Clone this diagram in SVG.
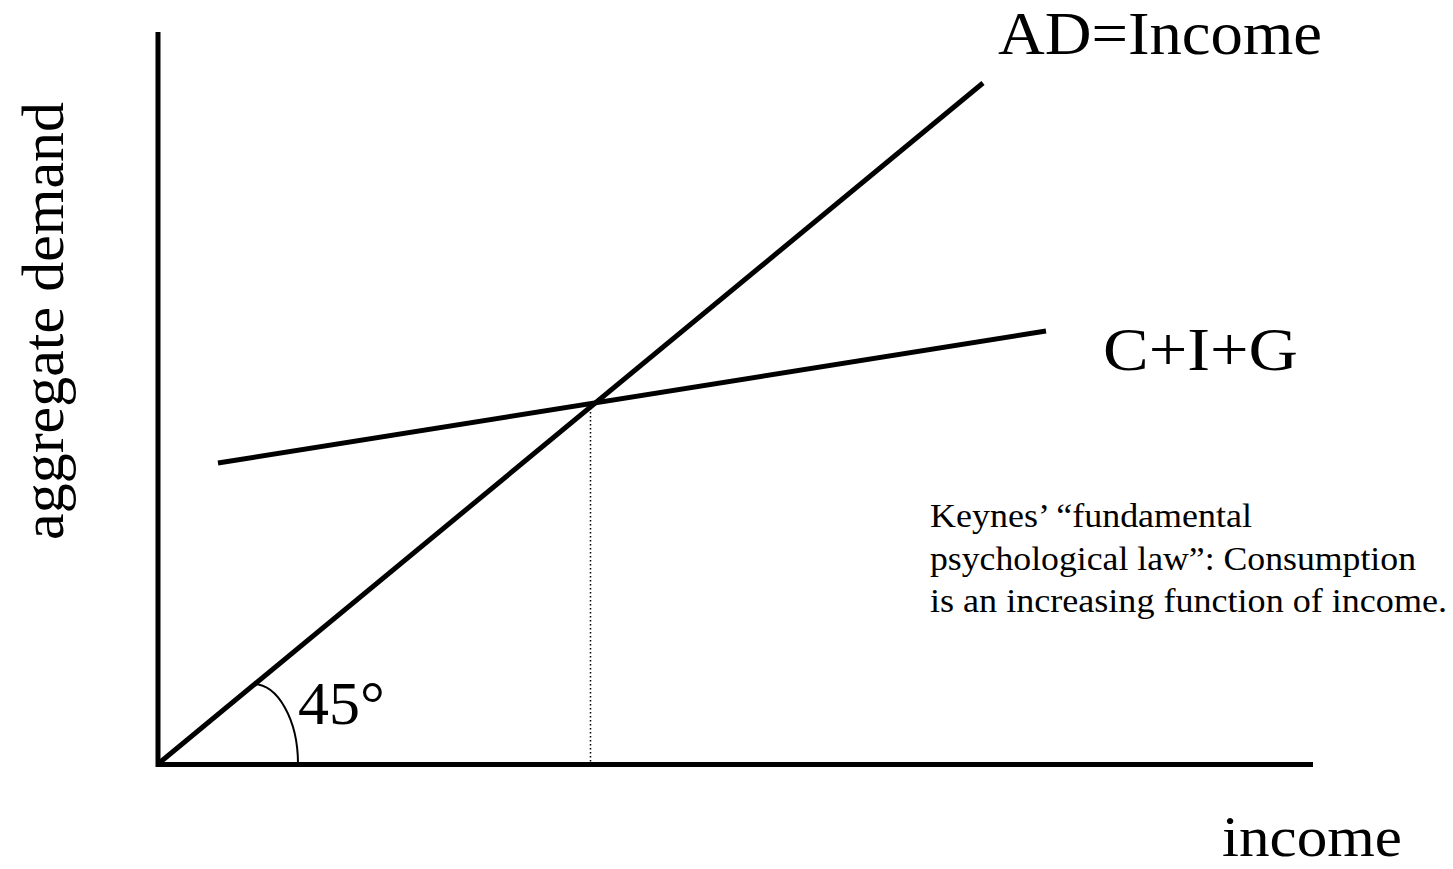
<svg xmlns="http://www.w3.org/2000/svg" width="1453" height="869" viewBox="0 0 1453 869">
<style>
.t{font-family:"Liberation Serif","Times New Roman",serif;fill:#000}
.ax{stroke:#000;stroke-width:5;fill:none}
.ln{stroke:#000;stroke-width:5;fill:none}
</style>
<rect width="1453" height="869" fill="#fff"/>
<g id="connectors">
<line class="ax" x1="158" y1="32" x2="158" y2="767"/>
<line class="ax" x1="156" y1="764.5" x2="1313" y2="764.5"/>
<line id="ad-line" class="ln" x1="158" y1="764" x2="983" y2="83"/>
<line id="cig-line" class="ln" x1="218" y1="463" x2="1046" y2="331"/>
<line stroke="#000" stroke-width="1.5" stroke-dasharray="1.5,2.5" x1="590.5" y1="404" x2="590.5" y2="762"/>
<path d="M253,684 A45,80 0 0 1 298,764" stroke="#000" stroke-width="2" fill="none"/>
</g>
<g id="label-ad"><text class="t" x="998" y="54" font-size="62" textLength="324" lengthAdjust="spacingAndGlyphs">AD=Income</text></g>
<g id="label-cig"><text class="t" x="1103" y="370" font-size="62" textLength="195" lengthAdjust="spacingAndGlyphs">C+I+G</text></g>
<g id="label-income"><text class="t" x="1222" y="856" font-size="56" textLength="180" lengthAdjust="spacingAndGlyphs">income</text></g>
<g id="label-ad-axis"><text class="t" transform="translate(63,540) rotate(-90)" font-size="60">aggregate demand</text></g>
<g id="label-45"><text class="t" x="298" y="724" font-size="62">45°</text></g>
<g id="note">
<text class="t" font-size="33"><tspan x="930" y="527" textLength="322" lengthAdjust="spacingAndGlyphs">Keynes’ “fundamental</tspan><tspan x="930" y="570" textLength="486" lengthAdjust="spacingAndGlyphs">psychological law”: Consumption</tspan><tspan x="930" y="612" textLength="517" lengthAdjust="spacingAndGlyphs">is an increasing function of income.</tspan></text>
</g>
</svg>
